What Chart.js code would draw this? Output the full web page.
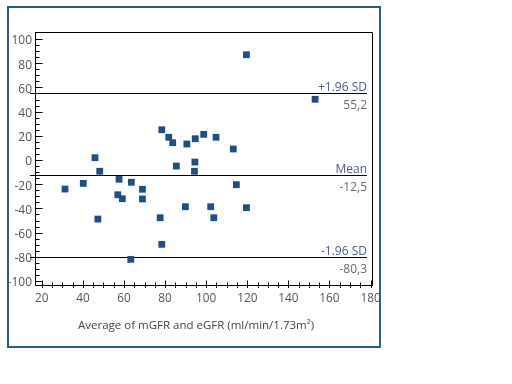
<!DOCTYPE html>
<html>
<head>
<meta charset="utf-8">
<script src="https://cdn.jsdelivr.net/npm/chart.js@4.4.0/dist/chart.umd.min.js"></script>
<style>
  html, body { margin: 0; padding: 0; background: #fff; }
  #wrap { width: 512px; height: 384px; }
</style>
</head>
<body>
<div id="wrap"><canvas id="baChart" width="512" height="384"></canvas></div>
<script>
// Bland-Altman plot: average of the two GFR measures vs their difference
const avgGfr = [31.3, 40.2, 45.9, 48.2, 47.3, 57.6, 57.0, 59.2, 63.6, 69.0, 69.0, 63.3,
                78.4, 81.8, 83.7, 85.5, 90.6, 94.7, 94.5, 94.3, 89.9, 77.6, 78.4,
                98.8, 104.8, 102.2, 103.7, 113.2, 114.7, 119.6, 119.6, 153.0];
const diffGfr = [-24.0, -19.3, 1.9, -9.3, -48.8, -15.9, -28.7, -32.0, -18.4, -24.2, -32.2, -82.1,
                 25.0, 18.8, 14.3, -5.0, 13.2, 17.6, -1.7, -9.3, -38.6, -47.7, -69.7,
                 21.2, 18.8, -38.6, -47.7, 9.1, -20.4, -39.4, 87.0, 50.2];

const xTicks = [20, 40, 60, 80, 100, 120, 140, 160, 180];
const yTicks = [-100, -80, -60, -40, -20, 0, 20, 40, 60, 80, 100];

const limitValues = [55.2, -12.5, -80.3];
const limitNames = ['+1.96 SD', 'Mean', '-1.96 SD'];
const limitLabels = ['55,2', '-12,5', '-80,3'];

const FONT = "'Open Sans', 'DejaVu Sans', sans-serif";

// frame, plot box, minor/major ticks and the limit lines
const baDecor = {
    id: 'baDecor',
    beforeDraw(chart) {
        const ctx = chart.ctx;
        ctx.save();
        ctx.fillStyle = '#fff';
        ctx.fillRect(0, 0, chart.width, chart.height);
        ctx.strokeStyle = '#2a5c8e';
        ctx.lineWidth = 2;
        ctx.strokeRect(8, 7, 372, 340);
        ctx.restore();
    },
    beforeDatasetsDraw(chart) {
        const { ctx, chartArea: a, scales: { y } } = chart;
        ctx.save();
        ctx.strokeStyle = '#000';
        ctx.lineWidth = 1;
        ctx.font = '12px ' + FONT;
        ctx.textAlign = 'right';
        ctx.textBaseline = 'middle';
        limitValues.forEach((v, i) => {
            const py = Math.round(y.getPixelForValue(v)) + 0.5;
            ctx.beginPath();
            ctx.moveTo(a.left - 5, py);
            ctx.lineTo(a.right - 5, py);
            ctx.stroke();
            ctx.fillStyle = '#4d5a8c';
            ctx.fillText(limitNames[i], a.right - 5, py - 6);
            ctx.fillStyle = '#6b6b6b';
            ctx.fillText(limitLabels[i], a.right - 5, py + 12);
        });
        ctx.restore();
    },
    afterDraw(chart) {
        const { ctx, chartArea: a, scales: { x, y } } = chart;
        ctx.save();
        ctx.strokeStyle = '#000';
        ctx.lineWidth = 1;
        // top and right side of the plot box
        ctx.beginPath();
        ctx.moveTo(a.left, a.top + 0.5);
        ctx.lineTo(Math.round(a.right) + 0.5, a.top + 0.5);
        ctx.lineTo(Math.round(a.right) + 0.5, a.bottom);
        ctx.stroke();

        const bx = Math.round(a.left) + 0.5;
        const by = Math.round(a.bottom) + 0.5;
        ctx.beginPath();
        // y ticks, pointing inside
        for (let v = yTicks[0]; v <= yTicks[yTicks.length - 1]; v += 5) {
            const py = Math.round(y.getPixelForValue(v)) + 0.5;
            const len = v % 20 === 0 ? 7 : 4;
            ctx.moveTo(bx, py);
            ctx.lineTo(bx + len, py);
        }
        // x ticks, crossing the axis
        for (let v = xTicks[0]; v <= xTicks[xTicks.length - 1]; v += 5) {
            const px = Math.round(x.getPixelForValue(v)) + 0.5;
            const up = v % 20 === 0 ? 5 : 3;
            ctx.moveTo(px, by - up);
            ctx.lineTo(px, by + 2.5);
        }
        ctx.stroke();
        ctx.restore();
    }
};

new Chart(document.getElementById('baChart'), {
    type: 'scatter',
    data: {
        datasets: [{
            label: 'Difference',
            data: avgGfr.map((v, i) => ({ x: v, y: diffGfr[i] })),
            pointStyle: 'rect',
            pointRadius: 4.8,
            pointHoverRadius: 4.8,
            backgroundColor: '#1c4f8e',
            borderWidth: 0
        }]
    },
    options: {
        responsive: false,
        animation: false,
        devicePixelRatio: 1,
        layout: {
            padding: { left: 0, top: 32, right: 140, bottom: 44 }
        },
        plugins: {
            legend: { display: false },
            tooltip: { enabled: false }
        },
        scales: {
            x: {
                type: 'linear',
                min: 16.7,
                max: 180.7,
                afterBuildTicks: (s) => { s.ticks = xTicks.map(v => ({ value: v })); },
                afterFit: (s) => { s.height = 55; },
                grid: { display: false, drawTicks: false },
                border: { display: true, color: '#000', width: 1 },
                ticks: {
                    padding: 7,
                    color: '#555',
                    maxRotation: 0,
                    font: { family: FONT, size: 11.8 }
                },
                title: {
                    display: true,
                    // trailing spaces nudge the centred title a bit to the left
                    text: 'Average of mGFR and eGFR (ml/min/1.73m²)     ',
                    color: '#444',
                    padding: { top: 0, bottom: 7 },
                    font: { family: FONT, size: 11.5 }
                }
            },
            y: {
                type: 'linear',
                min: -103.3,
                max: 105.8,
                afterBuildTicks: (s) => { s.ticks = yTicks.map(v => ({ value: v })); },
                afterFit: (s) => { s.width = 35; },
                grid: { display: false, drawTicks: false },
                border: { display: true, color: '#000', width: 1 },
                ticks: {
                    padding: 3,
                    labelOffset: 2,
                    color: '#555',
                    font: { family: FONT, size: 12 }
                }
            }
        }
    },
    plugins: [baDecor]
});
</script>
</body>
</html>
